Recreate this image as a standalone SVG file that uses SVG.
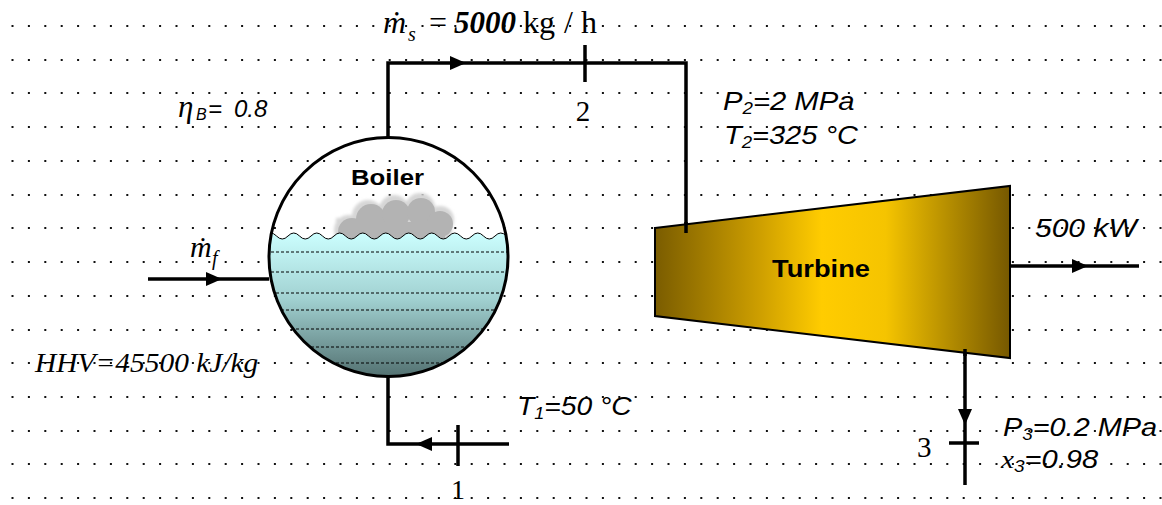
<svg xmlns="http://www.w3.org/2000/svg" width="1162" height="505" viewBox="0 0 1162 505">
  <style>
    .grid { stroke: #111; stroke-width: 2; stroke-dasharray: 2 14.4; }
    .pipe { stroke: #000; stroke-width: 3.5; fill: none; stroke-linecap: butt; }
    .tm { font-family: "Liberation Serif", "Times New Roman", serif; fill: #000; }
    .ar { font-family: "Liberation Sans", Arial, sans-serif; fill: #000; }
    .it { font-style: italic; }
    .bd { font-weight: bold; }
    .wl { stroke: #000; stroke-width: 1; stroke-dasharray: 3 2; }
  </style>
  <defs>
    <path id="head" d="M0,0 L-16,-7 L-16,7 Z" fill="#000"/>
    <clipPath id="drum">
      <circle cx="388.5" cy="257" r="119"/>
    </clipPath>
    <linearGradient id="water" x1="0" y1="232" x2="0" y2="378" gradientUnits="userSpaceOnUse">
      <stop offset="0" stop-color="#ccffff"/>
      <stop offset="0.45" stop-color="#a2d2d2"/>
      <stop offset="1" stop-color="#527070"/>
    </linearGradient>
    <linearGradient id="brass" x1="655" y1="0" x2="1010" y2="0" gradientUnits="userSpaceOnUse">
      <stop offset="0" stop-color="#7a5c00"/>
      <stop offset="0.3" stop-color="#cfa000"/>
      <stop offset="0.47" stop-color="#ffcc00"/>
      <stop offset="0.65" stop-color="#f5c400"/>
      <stop offset="1" stop-color="#765800"/>
    </linearGradient>
    <filter id="soft" x="-20%" y="-20%" width="140%" height="140%">
      <feGaussianBlur stdDeviation="1.5"/>
    </filter>
  </defs>

  <!-- dotted background grid -->
  <g id="grid">
    <line class="grid" x1="11.5" y1="26" x2="1162" y2="26"/>
    <line class="grid" x1="11.5" y1="60" x2="1162" y2="60"/>
    <line class="grid" x1="11.5" y1="93" x2="1162" y2="93"/>
    <line class="grid" x1="11.5" y1="127" x2="1162" y2="127"/>
    <line class="grid" x1="11.5" y1="161" x2="1162" y2="161"/>
    <line class="grid" x1="11.5" y1="195" x2="1162" y2="195"/>
    <line class="grid" x1="11.5" y1="228" x2="1162" y2="228"/>
    <line class="grid" x1="11.5" y1="262" x2="1162" y2="262"/>
    <line class="grid" x1="11.5" y1="296" x2="1162" y2="296"/>
    <line class="grid" x1="11.5" y1="330" x2="1162" y2="330"/>
    <line class="grid" x1="11.5" y1="363" x2="1162" y2="363"/>
    <line class="grid" x1="11.5" y1="397" x2="1162" y2="397"/>
    <line class="grid" x1="11.5" y1="431" x2="1162" y2="431"/>
    <line class="grid" x1="11.5" y1="464" x2="1162" y2="464"/>
    <line class="grid" x1="11.5" y1="498" x2="1162" y2="498"/>
  </g>

  <!-- piping and state points -->
  <g id="connectors">
    <!-- steam line boiler -> turbine -->
    <polyline class="pipe" points="388,137 388,63 686,63 686,233"/>
    <use href="#head" transform="translate(466,63)"/>
    <line class="pipe" x1="585" y1="45" x2="585" y2="82"/>
    <!-- feedwater return -->
    <polyline class="pipe" points="509,444 388,444 388,376"/>
    <use href="#head" transform="translate(416,444) rotate(180)"/>
    <line class="pipe" x1="458" y1="425" x2="458" y2="466"/>
    <!-- fuel in -->
    <line class="pipe" x1="148" y1="279" x2="269" y2="279"/>
    <use href="#head" transform="translate(222,279)"/>
    <!-- work out -->
    <line class="pipe" x1="1010" y1="266" x2="1139" y2="266"/>
    <use href="#head" transform="translate(1088,266)"/>
    <!-- exhaust -->
    <line class="pipe" x1="965" y1="349" x2="965" y2="485"/>
    <use href="#head" transform="translate(965,425) rotate(90)"/>
    <line class="pipe" x1="949" y1="443" x2="979" y2="443"/>
  </g>

  <!-- boiler drum -->
  <g id="boiler">
    <g clip-path="url(#drum)">
      <!-- steam cloud -->
      <g filter="url(#soft)" fill="#d6d6d6">
        <circle cx="349" cy="230" r="15"/>
        <circle cx="368" cy="216" r="16"/>
        <circle cx="394" cy="210" r="15"/>
        <circle cx="420" cy="208" r="15"/>
        <circle cx="440" cy="220" r="14"/>
        <rect x="336" y="218" width="116" height="28"/>
      </g>
      <g fill="#b3b3b3">
        <circle cx="352" cy="232" r="14"/>
        <circle cx="371" cy="219" r="15"/>
        <circle cx="396" cy="214" r="14"/>
        <circle cx="421" cy="212" r="14"/>
        <circle cx="440" cy="224" r="13"/>
        <rect x="345" y="222" width="100" height="24"/>
      </g>
      <!-- water body -->
      <path fill="url(#water)" stroke="#000" stroke-width="1"
        d="M265,236 q5.75,-6 11.5,0 t11.5,0 t11.5,0 t11.5,0 t11.5,0 t11.5,0 t11.5,0 t11.5,0 t11.5,0 t11.5,0 t11.5,0 t11.5,0 t11.5,0 t11.5,0 t11.5,0 t11.5,0 t11.5,0 t11.5,0 t11.5,0 t11.5,0 t11.5,0 t11.5,0 L518,390 L260,390 Z"/>
      <line class="wl" x1="266" y1="252" x2="512" y2="252"/>
      <line class="wl" x1="266" y1="272" x2="512" y2="272"/>
      <line class="wl" x1="266" y1="293" x2="512" y2="293"/>
      <line class="wl" x1="266" y1="310" x2="512" y2="310"/>
      <line class="wl" x1="266" y1="329" x2="512" y2="329"/>
      <line class="wl" x1="266" y1="347" x2="512" y2="347"/>
      <line class="wl" x1="266" y1="363" x2="512" y2="363"/>
    </g>
    <circle cx="388.5" cy="257" r="119.5" fill="none" stroke="#000" stroke-width="3"/>
    <text class="ar bd" x="351" y="185" font-size="22" textLength="73" lengthAdjust="spacingAndGlyphs">Boiler</text>
  </g>

  <!-- turbine -->
  <g id="turbine">
    <polygon points="655,228 1010,186 1010,358 655,316" fill="url(#brass)" stroke="#000" stroke-width="2"/>
    <line class="pipe" x1="686" y1="222" x2="686" y2="233"/>
    <line class="pipe" x1="965" y1="349" x2="965" y2="356"/>
    <text class="ar bd" x="772" y="277" font-size="24" textLength="98" lengthAdjust="spacingAndGlyphs">Turbine</text>
  </g>

  <!-- labels -->
  <g id="labels">
    <text class="tm" font-size="32">
      <tspan class="it" x="383" y="33">ṁ</tspan><tspan class="it" x="408" y="41" font-size="20">s</tspan><tspan x="429" y="33">=</tspan><tspan class="it bd" x="454" y="33" font-size="31">5000</tspan><tspan x="523" y="33">kg</tspan><tspan x="564" y="33">/</tspan><tspan x="581" y="33">h</tspan>
    </text>

    <text font-size="24">
      <tspan class="tm it" x="178" y="117" font-size="31">η</tspan><tspan class="ar it" x="196" y="120" font-size="16">B</tspan><tspan class="ar it" x="208" y="117">=</tspan><tspan class="ar it" x="234" y="117">0.8</tspan>
    </text>

    <text class="tm" x="583" y="121" font-size="29" text-anchor="middle">2</text>
    <text class="tm" x="458" y="499" font-size="28" text-anchor="middle">1</text>
    <text class="tm" x="917" y="457" font-size="29">3</text>

    <text class="tm it" font-size="30">
      <tspan x="190" y="257">ṁ</tspan><tspan x="212" y="265" font-size="20">f</tspan>
    </text>

    <text class="ar it" font-size="25" transform="translate(723,110) scale(1.17,1)">P<tspan font-size="16" dy="4">2</tspan><tspan dy="-4">=2 MPa</tspan></text>
    <text class="ar it" font-size="25" transform="translate(724,144) scale(1.16,1)">T<tspan font-size="16" dy="4">2</tspan><tspan dy="-4">=325 °C</tspan></text>

    <text class="ar it" font-size="25" transform="translate(1035,237) scale(1.2,1)">500 kW</text>

    <text class="tm it" font-size="27" transform="translate(35,372) scale(1.09,1)">HHV=45500 kJ/kg</text>

    <text class="ar it" font-size="25" transform="translate(517,415) scale(1.13,1)">T<tspan font-size="16" dy="4">1</tspan><tspan dy="-4">=50 °C</tspan></text>

    <text class="ar it" font-size="26" transform="translate(1003,436) scale(1.11,1)">P<tspan font-size="17" dy="4">3</tspan><tspan dy="-4">=0.2 MPa</tspan></text>
    <text font-size="26" transform="translate(1001,468) scale(1.12,1)"><tspan class="tm it">x</tspan><tspan class="ar it" font-size="17" dy="4">3</tspan><tspan class="ar it" dy="-4">=0.98</tspan></text>
  </g>
</svg>
